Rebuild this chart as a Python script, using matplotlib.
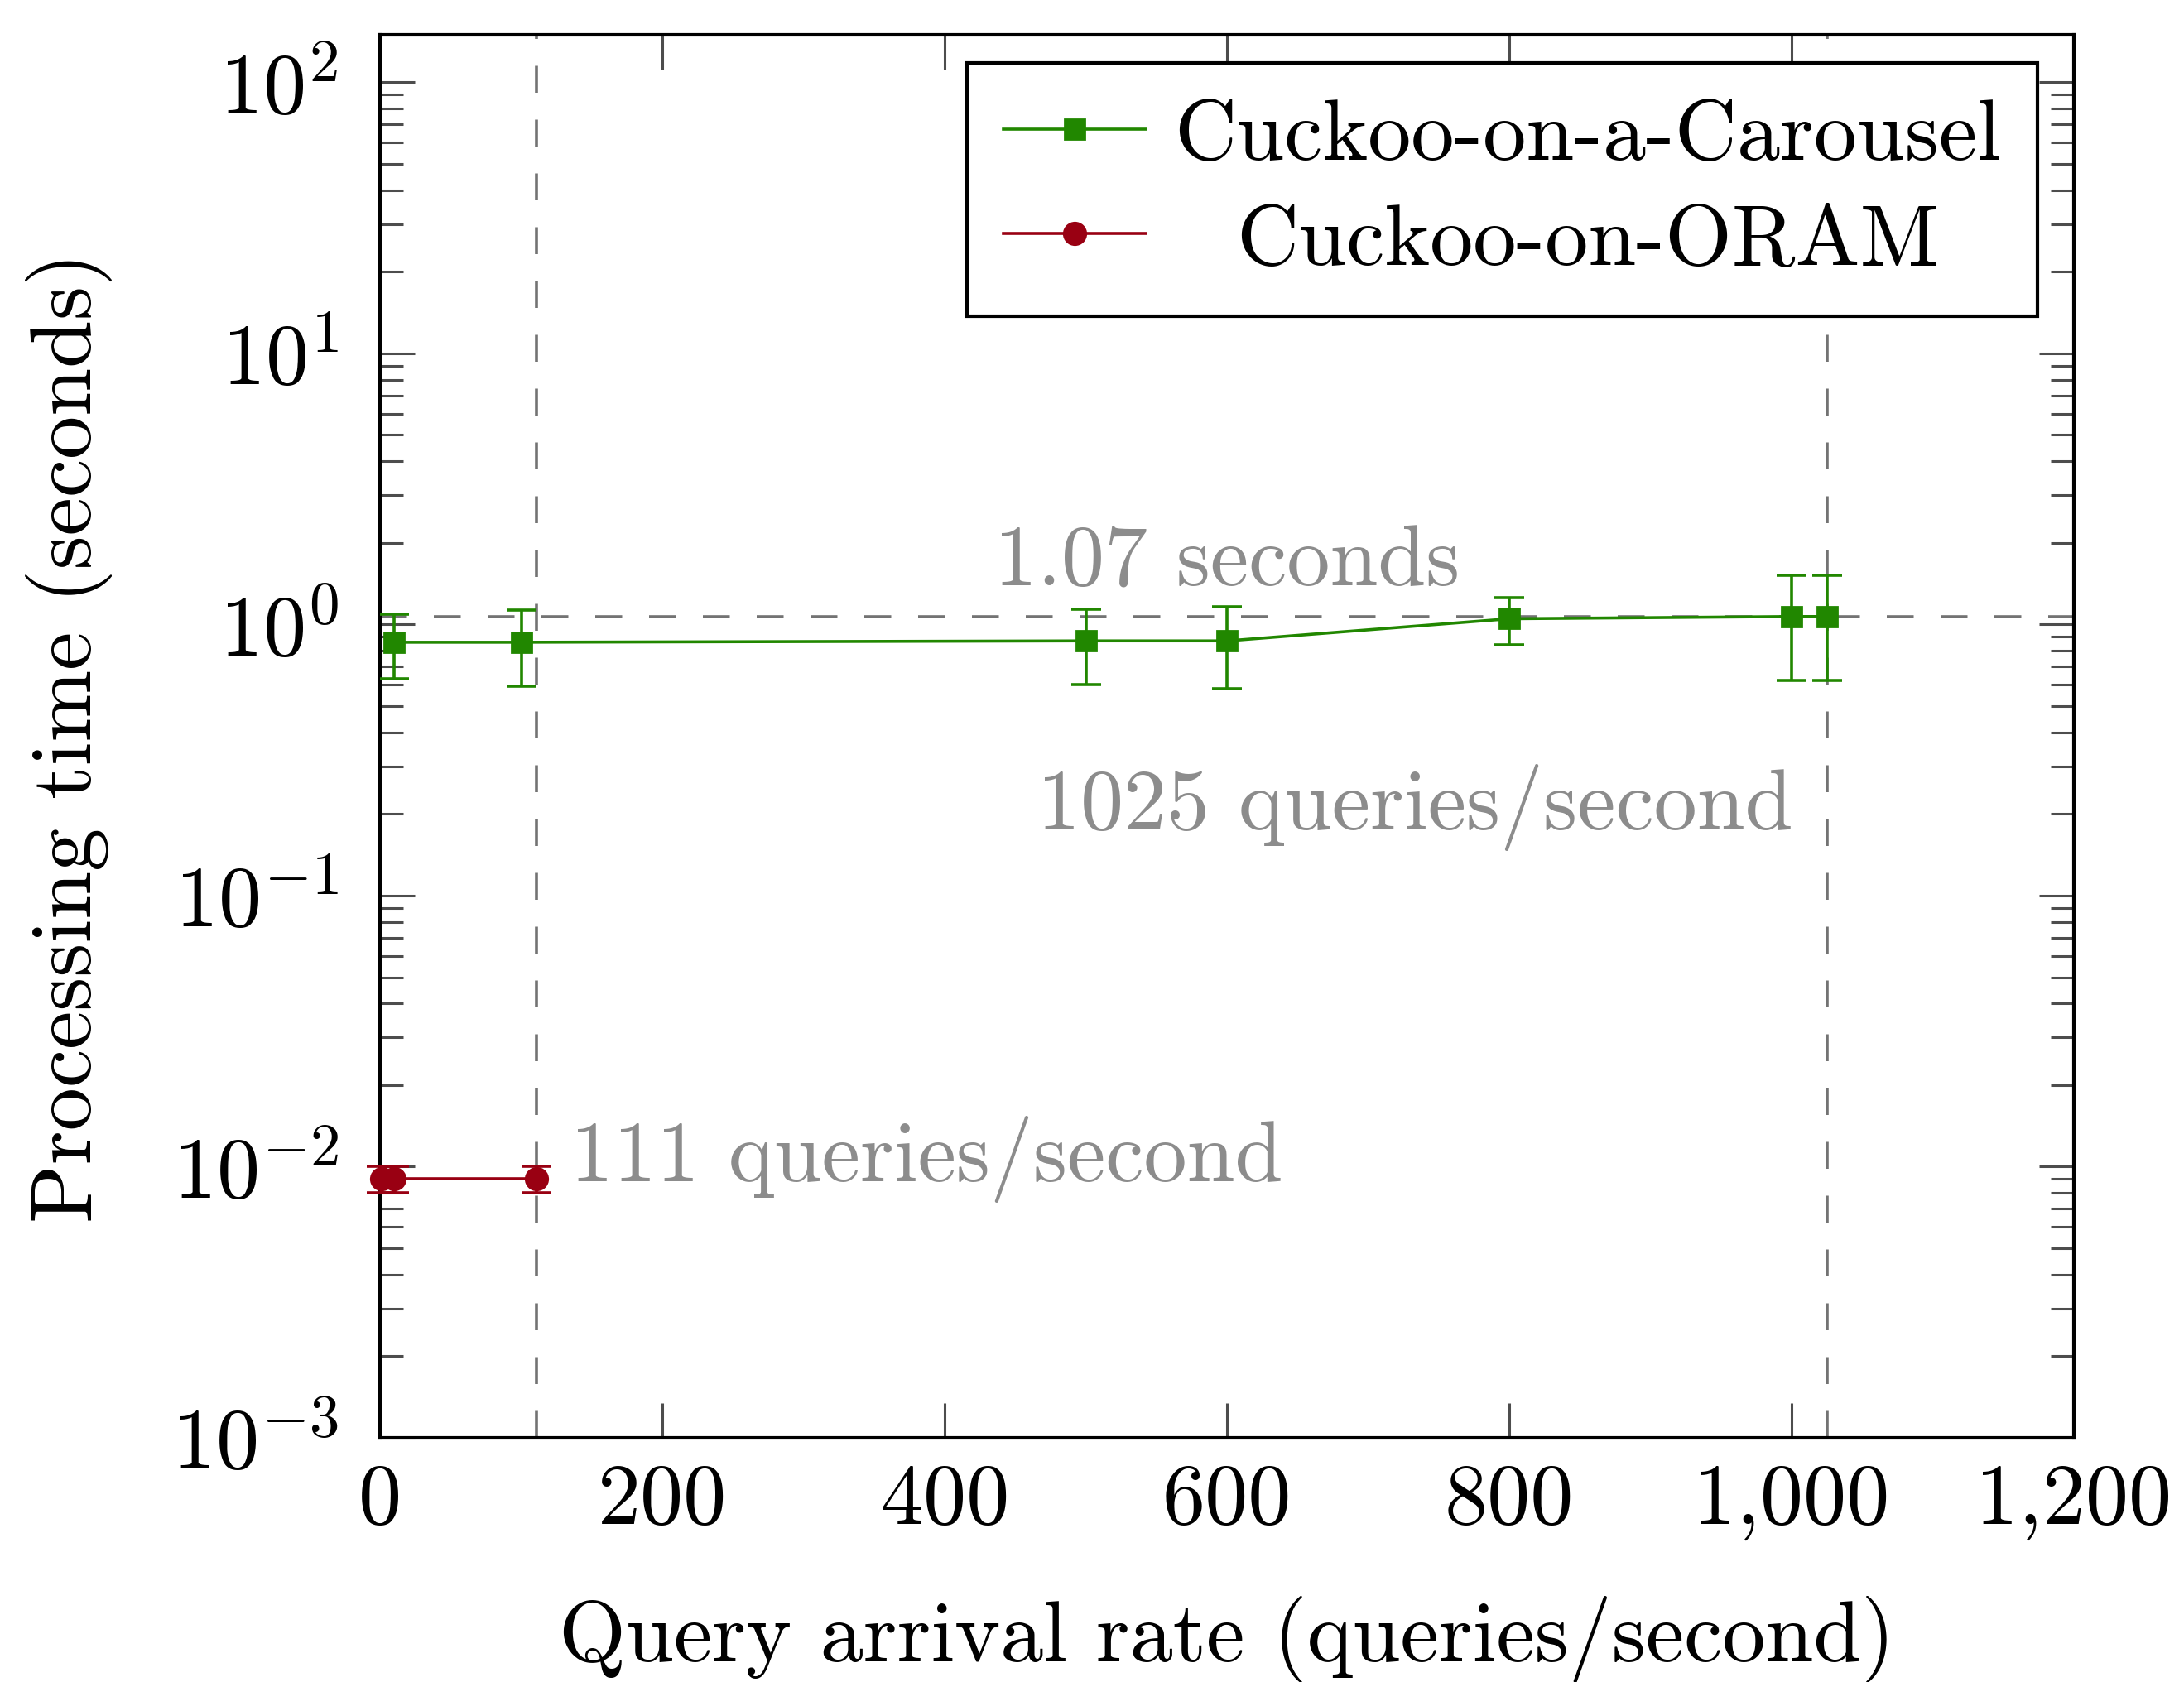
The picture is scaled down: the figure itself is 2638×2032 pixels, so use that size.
import math
import matplotlib
matplotlib.use("Agg")
import matplotlib.pyplot as plt
from matplotlib.ticker import FixedLocator, FuncFormatter, LogLocator, NullFormatter

plt.rcParams['font.family'] = 'serif'
plt.rcParams['font.serif'] = ['cmr10']
plt.rcParams['mathtext.fontset'] = 'cm'
plt.rcParams['axes.formatter.use_mathtext'] = True

# ---- data ----
carousel_x = [10, 100, 500, 600, 800, 1000, 1025]
carousel_y = [0.86, 0.86, 0.87, 0.87, 1.05, 1.07, 1.07]
carousel_err = [0.23, 0.27, 0.27, 0.29, 0.21, 0.45, 0.45]

oram_x = [1, 10, 111]
oram_y = [0.009, 0.009, 0.009]
oram_err = [0.001, 0.001, 0.001]

x_ticks = [0, 200, 400, 600, 800, 1000, 1200]
x_tick_labels = ['0', '200', '400', '600', '800', '1,000', '1,200']
y_ticks = [1e-3, 1e-2, 1e-1, 1e0, 1e1, 1e2]

ref_time = 1.07
ref_rate_carousel = 1025
ref_rate_oram = 111

GREEN = (0.13, 0.53, 0.0)
RED = (0.60, 0.0, 0.07)
GRAY = (0.55, 0.55, 0.55)
DASHGRAY = (0.45, 0.45, 0.45)
FS = 37.5

fig = plt.figure(figsize=(13.19, 10.165), dpi=200)
ax = fig.add_axes([0.174, 0.1451, 0.9496 - 0.174, 0.979 - 0.1451])

ax.set_yscale('log')
ax.set_xlim(0, 1200)
ax.set_ylim(1e-3, 150)

# reference lines
dash = (0, (9, 9))
ax.axhline(ref_time, color=DASHGRAY, lw=1.3, linestyle=dash, zorder=1)
ax.axvline(ref_rate_oram, color=DASHGRAY, lw=1.3, linestyle=dash, zorder=1)
ax.axvline(ref_rate_carousel, color=DASHGRAY, lw=1.3, linestyle=dash, zorder=1)

c1 = ax.errorbar(carousel_x, carousel_y, yerr=carousel_err, color=GREEN, lw=1.3,
                 marker='s', markersize=8.5, capsize=6.5, capthick=1.3, elinewidth=1.3,
                 zorder=3)
c2 = ax.errorbar(oram_x, oram_y, yerr=oram_err, color=RED, lw=1.3,
                 marker='o', markersize=9.5, capsize=6.5, capthick=1.3, elinewidth=1.3,
                 zorder=3, clip_on=False)

ax.text(600, 1.40, '1.07 seconds', color=GRAY, fontsize=FS, ha='center', va='baseline')
ax.text(1001, 0.177, '1025 queries/second', color=GRAY, fontsize=FS, ha='right', va='baseline')
ax.text(135, 0.0089, '111 queries/second', color=GRAY, fontsize=FS, ha='left', va='baseline')

ax.xaxis.set_major_locator(FixedLocator(x_ticks))
ax.set_xticklabels(x_tick_labels)
ax.yaxis.set_major_locator(FixedLocator(y_ticks))
ax.yaxis.set_major_formatter(FuncFormatter(lambda v, p: r'$10^{%d}$' % round(math.log10(v))))
ax.yaxis.set_minor_locator(LogLocator(base=10, subs=range(2, 10), numticks=20))
ax.yaxis.set_minor_formatter(NullFormatter())

ax.tick_params(axis='both', which='major', direction='in', length=15, width=1.1,
               top=True, right=True, labelsize=FS, color=(0.3, 0.3, 0.3))
ax.tick_params(axis='y', which='major', pad=18)
ax.tick_params(axis='x', which='major', pad=11)
ax.tick_params(axis='y', which='minor', direction='in', length=10, width=1.1,
               left=True, right=True, color=(0.3, 0.3, 0.3))
for s in ax.spines.values():
    s.set_linewidth(1.5)

ax.set_xlabel('Query arrival rate (queries/second)', fontsize=FS, labelpad=24)
ax.set_ylabel('Processing time (seconds)', fontsize=FS, labelpad=26)

leg = ax.legend([c1[0], c2[0]], ['Cuckoo-on-a-Carousel', 'Cuckoo-on-ORAM'],
                loc='upper right', bbox_to_anchor=(0.9785, 0.980), borderaxespad=0,
                fontsize=FS, frameon=True, fancybox=False, edgecolor='black',
                framealpha=1, handlelength=1.65, handletextpad=0.33, labelspacing=0.32,
                borderpad=0.42)
leg.get_frame().set_linewidth(1.5)

# center legend labels like pgfplots
fig.canvas.draw()
renderer = fig.canvas.get_renderer()
texts = leg.get_texts()
widths = [t.get_window_extent(renderer).width for t in texts]
wmax = max(widths)
for t, w in zip(texts, widths):
    t.set_position(((wmax - w) / 2.0, 0))

fig.savefig('out.png', dpi=200)
